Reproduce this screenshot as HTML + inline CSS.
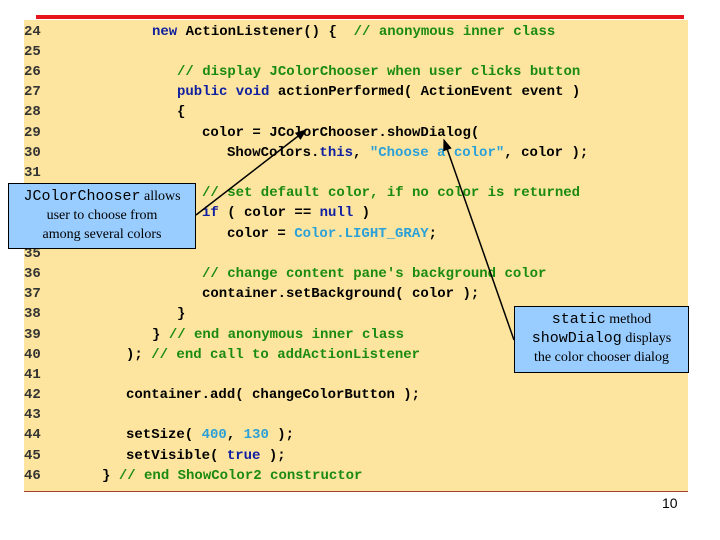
<!DOCTYPE html>
<html><head><style>
body{margin:0;width:720px;height:540px;background:#fff;position:relative;overflow:hidden}
.bg{position:absolute;left:24px;top:20px;width:664px;height:472px;background:#fde59f}
.red{position:absolute;left:36px;top:15px;width:648px;height:4px;background:#e8141c}
.bl{position:absolute;left:24px;top:491px;width:664px;height:1px;background:#a04030}
.l{position:absolute;font:bold 14px/20px "Liberation Mono",monospace;white-space:pre;color:#000}
.n{position:absolute;left:24px;font:bold 14px/20px "Liberation Mono",monospace;color:#333}
.c{color:#1a8a10}.k{color:#1020a0}.s{color:#2aa0d8}
.box{position:absolute;background:#99ccff;border:1px solid #000;text-align:center;font:14px/19px "Liberation Serif",serif;box-sizing:border-box}
.m{font-family:"Liberation Mono",monospace;font-size:15px}
.pg{position:absolute;left:662px;top:495px;font:14px "Liberation Sans",sans-serif}
</style></head><body>
<div class="bg"></div><div class="red"></div><div class="bl"></div>
<div class="n" style="top:22px">24</div><div class="n" style="top:42px">25</div><div class="n" style="top:62px">26</div><div class="n" style="top:82px">27</div><div class="n" style="top:102px">28</div><div class="n" style="top:123px">29</div><div class="n" style="top:143px">30</div><div class="n" style="top:163px">31</div><div class="n" style="top:244px">35</div><div class="n" style="top:264px">36</div><div class="n" style="top:284px">37</div><div class="n" style="top:304px">38</div><div class="n" style="top:325px">39</div><div class="n" style="top:345px">40</div><div class="n" style="top:365px">41</div><div class="n" style="top:385px">42</div><div class="n" style="top:405px">43</div><div class="n" style="top:425px">44</div><div class="n" style="top:446px">45</div><div class="n" style="top:466px">46</div>
<div class="l" style="left:152px;top:22px"><span class="k">new</span> ActionListener() {  <span class="c">// anonymous inner class</span></div>
<div class="l" style="left:177px;top:62px"><span class="c">// display JColorChooser when user clicks button</span></div>
<div class="l" style="left:177px;top:82px"><span class="k">public void</span> actionPerformed( ActionEvent event )</div>
<div class="l" style="left:177px;top:102px">{</div>
<div class="l" style="left:202px;top:123px">color = JColorChooser.showDialog(</div>
<div class="l" style="left:227px;top:143px">ShowColors.<span class="k">this</span>, <span class="s">"Choose a color"</span>, color );</div>
<div class="l" style="left:202px;top:183px"><span class="c">// set default color, if no color is returned</span></div>
<div class="l" style="left:202px;top:203px"><span class="k">if</span> ( color == <span class="k">null</span> )</div>
<div class="l" style="left:227px;top:224px">color = <span class="s">Color.LIGHT_GRAY</span>;</div>
<div class="l" style="left:202px;top:264px"><span class="c">// change content pane's background color</span></div>
<div class="l" style="left:202px;top:284px">container.setBackground( color );</div>
<div class="l" style="left:177px;top:304px">}</div>
<div class="l" style="left:152px;top:325px">} <span class="c">// end anonymous inner class</span></div>
<div class="l" style="left:126px;top:345px">); <span class="c">// end call to addActionListener</span></div>
<div class="l" style="left:126px;top:385px">container.add( changeColorButton );</div>
<div class="l" style="left:126px;top:425px">setSize( <span class="s">400</span>, <span class="s">130</span> );</div>
<div class="l" style="left:126px;top:446px">setVisible( <span class="k">true</span> );</div>
<div class="l" style="left:102px;top:466px">} <span class="c">// end ShowColor2 constructor</span></div>
<svg style="position:absolute;left:0;top:0" width="720" height="540">
<defs><marker id="a" markerWidth="8" markerHeight="8" refX="7" refY="4" orient="auto"><path d="M0,1 L8,4 L0,7z" fill="#000"/></marker></defs>
<line x1="196" y1="215" x2="306" y2="130" stroke="#000" stroke-width="1.5" marker-end="url(#a)"/>
<line x1="514" y1="340" x2="444" y2="140" stroke="#000" stroke-width="1.5" marker-end="url(#a)"/>
</svg>
<div class="box" style="left:8px;top:183px;width:188px;height:66px;padding-top:3px"><span class="m">JColorChooser</span> allows<br>user to choose from<br>among several colors</div>
<div class="box" style="left:514px;top:306px;width:175px;height:67px;padding-top:3px"><span class="m">static</span> method<br><span class="m">showDialog</span> displays<br>the color chooser dialog</div>
<div class="pg">10</div>
</body></html>
